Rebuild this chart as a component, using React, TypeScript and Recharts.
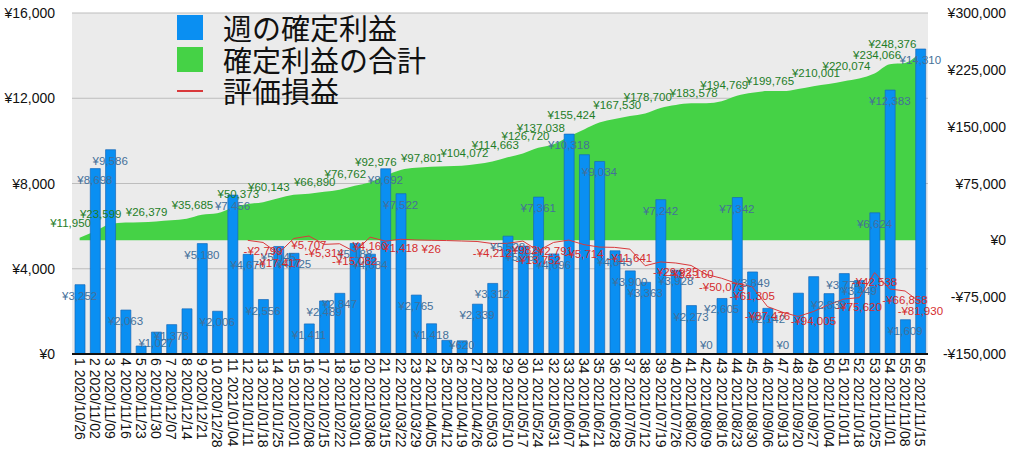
import React from "react";
import { ComposedChart, Bar, Area, Line, XAxis, YAxis, CartesianGrid, LabelList } from "recharts";

const weeks = Array.from({ length: 56 }, (_, i) => i + 1);

const dates = [
  "2020/10/26", "2020/11/02", "2020/11/09", "2020/11/16", "2020/11/23", "2020/11/30", "2020/12/07",
  "2020/12/14", "2020/12/21", "2020/12/28", "2021/01/04", "2021/01/11", "2021/01/18", "2021/01/25",
  "2021/02/01", "2021/02/08", "2021/02/15", "2021/02/22", "2021/03/01", "2021/03/08", "2021/03/15",
  "2021/03/22", "2021/03/29", "2021/04/05", "2021/04/12", "2021/04/19", "2021/04/26", "2021/05/03",
  "2021/05/10", "2021/05/17", "2021/05/24", "2021/05/31", "2021/06/07", "2021/06/14", "2021/06/21",
  "2021/06/28", "2021/07/05", "2021/07/12", "2021/07/19", "2021/07/26", "2021/08/02", "2021/08/09",
  "2021/08/16", "2021/08/23", "2021/08/30", "2021/09/06", "2021/09/13", "2021/09/20", "2021/09/27",
  "2021/10/04", "2021/10/11", "2021/10/18", "2021/10/25", "2021/11/01", "2021/11/08", "2021/11/15",
];

// 週の確定利益
const weeklyProfit = [
  3252, 8698, 9586, 2063, 375, 1027, 1378, 2120, 5180, 2006, 7456, 4676, 2556, 5045,
  4725, 1411, 2489, 2847, 5188, 4684, 8692, 7522, 2765, 1418, 642, 620, 2339, 3312,
  5528, 5063, 7361, 4696, 10318, 9352, 9034, 4843, 3900, 3363, 7242, 3928, 2273, 0,
  2605, 7342, 3849, 2142, 0, 2854, 3629, 2833, 3774, 3449, 6624, 12383, 1609, 14310,
];

// 確定利益の合計
const totalProfit = [
  3252, 11950, 21536, 23599, 23974, 25001, 26379, 28499, 33679, 35685, 43141, 47817, 50373, 55418,
  60143, 61554, 64043, 66890, 72078, 76762, 85454, 92976, 95741, 97159, 97801, 98421, 100760, 104072,
  109600, 114663, 122024, 126720, 137038, 146390, 155424, 160267, 164167, 167530, 174772, 178700, 180973, 180973,
  183578, 190920, 194769, 196911, 196911, 199765, 203394, 206227, 210001, 213450, 220074, 232457, 234066, 248376,
];

// 評価損益
const unrealized: (number | null)[] = [
  null, null, null, null, null, null, null, null, null, null, null, 0, -2799, -17417,
  2418, 5707, -5314, -4500, -15082, 4160, -1000, 1418, 500, 26, -300, -900, -1500, -4212,
  -3900, -982, -13752, -2791, 300, -5714, -8900, -9300, -11641, -33500, -28500, -29925, -33160, -45000,
  -50073, -57000, -61305, -87476, -95000, -100500, -94005, -85000, -77500, -75620, -42538, -64200, -66858, -81930,
];

// weeks whose value labels are visible in the picture
const weeklyLabelHidden = [5, 8, 25, 34, 48, 49];
const totalLabelWeeks = [2, 4, 7, 10, 13, 15, 18, 20, 22, 25, 28, 30, 32, 33, 35, 38, 40, 43, 45, 48, 51, 53, 55, 56];
const unrealizedLabelWeeks = [13, 14, 16, 17, 19, 20, 22, 24, 28, 30, 31, 32, 34, 37, 40, 41, 43, 45, 46, 49, 52, 53, 55, 56];

const leftTicks = [0, 4000, 8000, 12000, 16000];
const rightTicks = [-150000, -75000, 0, 75000, 150000, 225000, 300000];

const data = weeks.map((w, i) => ({
  label: `${w} ${dates[i]}`,
  weekly: weeklyProfit[i],
  total: totalProfit[i],
  pnl: unrealized[i],
  weeklyLabel: weeklyLabelHidden.includes(w) ? null : weeklyProfit[i],
  totalLabel: totalLabelWeeks.includes(w) ? totalProfit[i] : null,
  pnlLabel: unrealizedLabelWeeks.includes(w) ? unrealized[i] : null,
}));

const BLUE = "#0A8FF2";
const GREEN = "#45D246";
const RED = "#D9393B";
const NUM_FONT = "'Liberation Sans', Arial, sans-serif";

const yen = (v: number) =>
  v < 0 ? `-¥${Math.abs(v).toLocaleString("en-US")}` : `¥${v.toLocaleString("en-US")}`;

// weekly labels sit just inside the bar top, kept above the axis for tiny bars
const WeeklyValue = (props: any) => {
  const { x, y, value } = props;
  if (value === null || value === undefined || y === undefined) return null;
  return (
    <text x={x} y={Math.min(y + 11, 345)} textAnchor="middle" dominantBaseline="central"
      fontSize={11.5} fontFamily={NUM_FONT} fill="#44709A">
      {yen(Number(value))}
    </text>
  );
};

const TotalValue = (props: any) => {
  const { x, y, value } = props;
  if (value === null || value === undefined) return null;
  return (
    <text x={x - 4} y={y - 8} textAnchor="end" dominantBaseline="central"
      fontSize={11.5} fontFamily={NUM_FONT} fill="#1E7D27">
      {yen(Number(value))}
    </text>
  );
};

const PnlValue = (props: any) => {
  const { x, y, value } = props;
  if (value === null || value === undefined) return null;
  return (
    <text x={x} y={y + 9} textAnchor="middle" dominantBaseline="central"
      fontSize={11.5} fontFamily={NUM_FONT} fill="#D52B2E">
      {yen(Number(value))}
    </text>
  );
};

const DateTick = (props: any) => {
  const { x, y, payload } = props;
  return (
    <text transform={`translate(${x},${y}) rotate(90)`} textAnchor="start" dominantBaseline="central"
      fontSize={14} fontFamily={NUM_FONT} fill="#111">
      {payload.value}
    </text>
  );
};

const RightTick = (props: any) => {
  const { x, y, payload } = props;
  return (
    <text x={x + 78} y={y} textAnchor="end" dominantBaseline="central"
      fontSize={14} fontFamily={NUM_FONT} fill="#111">
      {yen(payload.value)}
    </text>
  );
};

const LeftTick = (props: any) => {
  const { x, y, payload } = props;
  return (
    <text x={x} y={y} textAnchor="end" dominantBaseline="central"
      fontSize={14} fontFamily={NUM_FONT} fill="#111">
      {yen(payload.value)}
    </text>
  );
};

const legendItems = [
  { name: "週の確定利益", color: BLUE, kind: "box" },
  { name: "確定利益の合計", color: GREEN, kind: "box" },
  { name: "評価損益", color: RED, kind: "line" },
];

export default function App() {
  return (
    <div style={{ position: "absolute", left: 0, top: 0, width: 1024, height: 459, background: "#fff" }}>
      <ComposedChart width={1024} height={459} data={data} margin={{ top: 13, right: 0, bottom: 0, left: 0 }}>
        <CartesianGrid yAxisId="left" vertical={false} stroke="#BDBDBD" fill="#EBEBEB" />
        <XAxis dataKey="label" interval={0} height={105} tickSize={0} tickMargin={4}
          axisLine={{ stroke: "#111", strokeWidth: 2 }} tickLine={false} tick={<DateTick />} />
        <YAxis yAxisId="left" domain={[0, 16000]} ticks={leftTicks} width={72} axisLine={false}
          tickLine={false} tickSize={0} tickMargin={17} tick={<LeftTick />} />
        <YAxis yAxisId="right" orientation="right" domain={[-150000, 300000]} ticks={rightTicks} width={96}
          axisLine={false} tickLine={false} tickSize={0} tickMargin={0} tick={<RightTick />} />
        <Area yAxisId="right" dataKey="total" type="monotone" baseValue={0} fill={GREEN} fillOpacity={1}
          stroke="none" isAnimationActive={false} />
        <Bar yAxisId="left" dataKey="weekly" barSize={10} fill={BLUE} stroke="#1769B8" strokeWidth={0.7}
          isAnimationActive={false} />
        <Line yAxisId="left" dataKey="weekly" stroke="none" dot={false} activeDot={false}
          isAnimationActive={false}>
          <LabelList dataKey="weeklyLabel" content={<WeeklyValue />} />
        </Line>
        <Line yAxisId="right" dataKey="total" type="monotone" stroke="none" dot={false} activeDot={false}
          isAnimationActive={false}>
          <LabelList dataKey="totalLabel" content={<TotalValue />} />
        </Line>
        <Line yAxisId="right" dataKey="pnl" type="linear" stroke={RED} strokeWidth={1} dot={false}
          activeDot={false} isAnimationActive={false}>
          <LabelList dataKey="pnlLabel" content={<PnlValue />} />
        </Line>
      </ComposedChart>
      <div style={{ position: "absolute", left: 177, top: 12, fontFamily: "'Noto Sans CJK JP', sans-serif" }}>
        {legendItems.map((item) => (
          <div key={item.name} style={{ display: "flex", alignItems: "center", height: 31.5 }}>
            {item.kind === "box" ? (
              <div style={{ width: 26, height: 25, background: item.color }} />
            ) : (
              <div style={{ width: 26, height: 25, display: "flex", alignItems: "center" }}>
                <div style={{ width: 26, height: 1.5, background: item.color }} />
              </div>
            )}
            <span style={{ marginLeft: 20, fontSize: 29, lineHeight: "31.5px", color: "#111" }}>{item.name}</span>
          </div>
        ))}
      </div>
    </div>
  );
}
